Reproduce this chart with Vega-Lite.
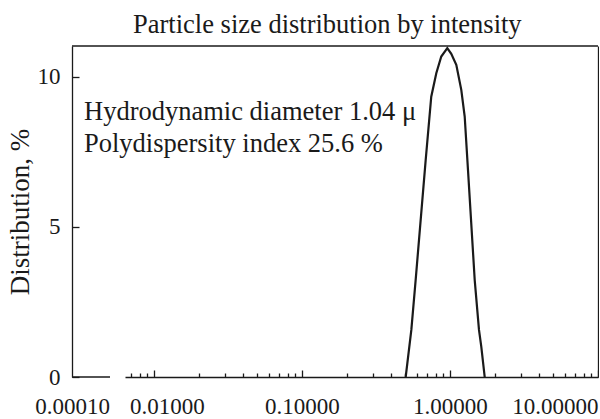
{
  "$schema": "https://vega.github.io/schema/vega-lite/v6.json",
  "background": "white",
  "padding": {"left": 6, "top": 11, "right": 0, "bottom": 0},
  "config": {
    "font": "Liberation Serif",
    "view": {"stroke": null},
    "axis": {
      "domainColor": "#1a1a1a",
      "tickColor": "#1a1a1a",
      "labelColor": "#1a1a1a",
      "titleColor": "#1a1a1a",
      "domainWidth": 1.3,
      "tickWidth": 1.3,
      "labelFont": "Liberation Serif",
      "titleFont": "Liberation Serif",
      "labelFontSize": 23,
      "titleFontSize": 27,
      "titleFontWeight": "normal",
      "grid": false
    }
  },
  "title": {
    "text": "Particle size distribution by intensity",
    "font": "Liberation Serif",
    "fontSize": 26.5,
    "fontWeight": "normal",
    "color": "#1a1a1a",
    "anchor": "middle",
    "dx": 25,
    "offset": 7
  },
  "datasets": {
    "psd": [
      {"size": 0.502, "dist": 0.0},
      {"size": 0.548, "dist": 1.57},
      {"size": 0.586, "dist": 3.23},
      {"size": 0.685, "dist": 7.23},
      {"size": 0.747, "dist": 9.34},
      {"size": 0.808, "dist": 10.12},
      {"size": 0.873, "dist": 10.68},
      {"size": 0.959, "dist": 10.96},
      {"size": 1.020, "dist": 10.77},
      {"size": 1.103, "dist": 10.40},
      {"size": 1.192, "dist": 9.57},
      {"size": 1.257, "dist": 8.68},
      {"size": 1.323, "dist": 6.90},
      {"size": 1.469, "dist": 3.23},
      {"size": 1.570, "dist": 1.57},
      {"size": 1.627, "dist": 1.01},
      {"size": 1.716, "dist": 0.0}
    ],
    "one": [{}]
  },
  "spacing": 0,
  "bounds": "flush",
  "hconcat": [
    {
      "width": 53,
      "height": 331,
      "layer": [
        {
          "data": {"name": "psd"},
          "mark": {"type": "line", "clip": true, "color": "#1a1a1a", "strokeWidth": 2.2},
          "encoding": {
            "x": {
              "field": "size", "type": "quantitative",
              "scale": {"type": "log", "domain": [0.0001, 0.000228], "nice": false},
              "axis": {"values": [0.0001], "format": ".5f", "ticks": false, "domain": false, "labelPadding": 18, "labelFlush": false, "title": null, "labelOverlap": false, "labelBound": false}
            },
            "y": {
              "field": "dist", "type": "quantitative",
              "scale": {"domain": [0, 11.03], "nice": false, "zero": false},
              "axis": {"values": [0, 5, 10], "tickSize": -7, "labelPadding": 19, "title": "Distribution, %", "titlePadding": 3}
            }
          }
        },
        {
          "data": {"name": "one"},
          "mark": {"type": "rule", "color": "#1a1a1a", "strokeWidth": 1.3},
          "encoding": {
            "x": {"datum": 0.0001},
            "x2": {"datum": 0.0001806},
            "y": {"datum": 0}
          }
        },
        {
          "data": {"name": "one"},
          "mark": {"type": "rule", "color": "#1a1a1a", "strokeWidth": 1.3},
          "encoding": {
            "x": {"datum": 0.0001},
            "x2": {"datum": 0.000228},
            "y": {"datum": 11.03}
          }
        },
        {
          "data": {"name": "one"},
          "mark": {"type": "text", "align": "left", "baseline": "alphabetic", "font": "Liberation Serif", "fontSize": 26.5, "lineHeight": 32, "color": "#1a1a1a"},
          "encoding": {
            "x": {"datum": 0.0001205},
            "y": {"datum": 8.57},
            "text": {"value": ["Hydrodynamic diameter 1.04 μ", "Polydispersity index 25.6 %"]}
          }
        }
      ]
    },
    {
      "width": 473,
      "height": 331,
      "layer": [
        {
          "data": {"name": "psd"},
          "mark": {"type": "line", "clip": true, "color": "#1a1a1a", "strokeWidth": 2.2},
          "encoding": {
            "x": {
              "field": "size", "type": "quantitative",
              "scale": {"type": "log", "domain": [0.00637, 10], "nice": false},
              "axis": {
                "values": [0.007, 0.008, 0.009, 0.01, 0.02, 0.03, 0.04, 0.05, 0.06, 0.07, 0.08, 0.09, 0.1, 0.2, 0.3, 0.4, 0.5, 0.6, 0.7, 0.8, 0.9, 1, 2, 3, 4, 5, 6, 7, 8, 9, 10],
                "labelExpr": "abs(log(datum.value)/LN10 - round(log(datum.value)/LN10)) < 0.001 ? format(datum.value, '.5f') : ''",
                "tickSize": {"condition": {"test": "abs(log(datum.value)/LN10 - round(log(datum.value)/LN10)) < 0.001", "value": -7}, "value": -4},
                "labelOffset": {"condition": {"test": "datum.value < 0.05", "value": 13}, "value": 0},
                "labelPadding": 25,
                "labelFlush": true,
                "labelOverlap": false,
                "labelBound": false,
                "title": null
              }
            },
            "y": {
              "field": "dist", "type": "quantitative",
              "scale": {"domain": [0, 11.03], "nice": false, "zero": false},
              "axis": {"orient": "right", "labels": false, "ticks": false, "title": null}
            }
          }
        },
        {
          "data": {"name": "one"},
          "mark": {"type": "rule", "color": "#1a1a1a", "strokeWidth": 1.3},
          "encoding": {
            "x": {"datum": 0.00637},
            "x2": {"datum": 10},
            "y": {"datum": 11.03}
          }
        }
      ]
    }
  ]
}
